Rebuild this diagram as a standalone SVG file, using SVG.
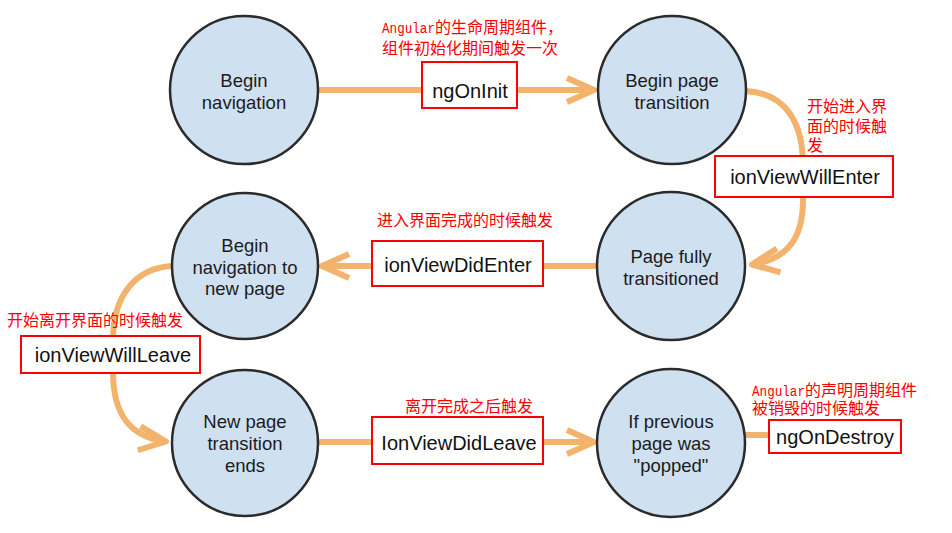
<svg xmlns="http://www.w3.org/2000/svg" width="952" height="533" viewBox="0 0 952 533">
<style>
.node{fill:#cfe0f1;stroke:#2b2b2b;stroke-width:2.5}
.nt{font-family:"Liberation Sans",Arial,sans-serif;font-size:18.5px;fill:#1c1c1c;text-anchor:middle}
.edge{fill:none;stroke:#f3b36c;stroke-width:6}
.lbox{fill:#fff;stroke:#ff0000;stroke-width:2}
.lt{font-family:"Liberation Sans",Arial,sans-serif;font-size:20px;fill:#111;text-anchor:middle}
.note{font-family:"Noto Sans CJK SC",sans-serif;font-size:16px;fill:#ff0000}
.mono{font-family:"Liberation Mono","Noto Sans CJK SC",monospace;font-size:15.5px}
</style>
<defs>
<marker id="arr" markerUnits="userSpaceOnUse" viewBox="-32 -16 40 32" markerWidth="40" markerHeight="32" refX="0" refY="0" orient="auto" overflow="visible">
<polyline points="-27,-12 0,0 -27,12" fill="none" stroke="#f3b36c" stroke-width="6" stroke-linejoin="round" stroke-linecap="butt"/>
</marker>
</defs>
<rect width="952" height="533" fill="#fff"/>
<g id="connectors">
<path class="edge" d="M318,90 L594,90" marker-end="url(#arr)"/>
<path class="edge" d="M746,91 C782,93 803,118 803,165 L803,200 C803,238 788,259 752,264.5" marker-end="url(#arr)"/>
<path class="edge" d="M597,266 L322,266" marker-end="url(#arr)"/>
<path class="edge" d="M172,266 C136,268 113,295 113,340 L113,372 C113,412 128,437 166,441.5" marker-end="url(#arr)"/>
<path class="edge" d="M318,442 L594,442" marker-end="url(#arr)"/>
<path class="edge" d="M745,435 L770,435"/>
</g>
<g id="node-begin-navigation">
<circle class="node" cx="244" cy="90" r="74"/>
<text class="nt" x="244" y="87">Begin</text>
<text class="nt" x="244" y="108.5">navigation</text>
</g>
<g id="node-begin-page-transition">
<circle class="node" cx="672" cy="90" r="74"/>
<text class="nt" x="672" y="87">Begin page</text>
<text class="nt" x="672" y="108.5">transition</text>
</g>
<g id="node-page-fully-transitioned">
<circle class="node" cx="671" cy="266" r="74"/>
<text class="nt" x="671" y="263">Page fully</text>
<text class="nt" x="671" y="284.5">transitioned</text>
</g>
<g id="node-begin-navigation-new-page">
<circle class="node" cx="245" cy="266" r="73"/>
<text class="nt" x="245" y="252">Begin</text>
<text class="nt" x="245" y="273.5">navigation to</text>
<text class="nt" x="245" y="295">new page</text>
</g>
<g id="node-new-page-transition-ends">
<circle class="node" cx="245" cy="443" r="73"/>
<text class="nt" x="245" y="428">New page</text>
<text class="nt" x="245" y="450">transition</text>
<text class="nt" x="245" y="472">ends</text>
</g>
<g id="node-if-previous-page-popped">
<circle class="node" cx="671" cy="443" r="74"/>
<text class="nt" x="671" y="428">If previous</text>
<text class="nt" x="671" y="450">page was</text>
<text class="nt" x="671" y="472">"popped"</text>
</g>
<g id="label-ngOnInit">
<rect class="lbox" x="422" y="62" width="95" height="46"/>
<text class="lt" x="470" y="98">ngOnInit</text>
<text class="note" x="382" y="32.5"><tspan class="mono" textLength="53" lengthAdjust="spacingAndGlyphs">Angular</tspan>的生命周期组件，</text>
<text class="note" x="382" y="54">组件初始化期间触发一次</text>
</g>
<g id="label-ionViewWillEnter">
<rect class="lbox" x="715" y="156" width="178" height="41"/>
<text class="lt" x="805" y="183.5">ionViewWillEnter</text>
<text class="note" x="807" y="112">开始进入界</text>
<text class="note" x="807" y="132">面的时候触</text>
<text class="note" x="807" y="151">发</text>
</g>
<g id="label-ionViewDidEnter">
<rect class="lbox" x="372" y="241" width="171" height="45"/>
<text class="lt" x="458" y="271.5">ionViewDidEnter</text>
<text class="note" x="377" y="226">进入界面完成的时候触发</text>
</g>
<g id="label-ionViewWillLeave">
<rect class="lbox" x="21" y="336" width="179" height="37"/>
<text class="lt" x="113" y="362">ionViewWillLeave</text>
<text class="note" x="7" y="326">开始离开界面的时候触发</text>
</g>
<g id="label-IonViewDidLeave">
<rect class="lbox" x="372" y="417" width="171" height="47"/>
<text class="lt" x="459" y="449.5">IonViewDidLeave</text>
<text class="note" x="405" y="412">离开完成之后触发</text>
</g>
<g id="label-ngOnDestroy">
<rect class="lbox" x="769" y="420" width="132" height="33"/>
<text class="lt" x="835" y="443.5">ngOnDestroy</text>
<text class="note" x="752" y="396"><tspan class="mono" textLength="53" lengthAdjust="spacingAndGlyphs">Angular</tspan>的声明周期组件</text>
<text class="note" x="752" y="414">被销毁的时候触发</text>
</g>
</svg>
